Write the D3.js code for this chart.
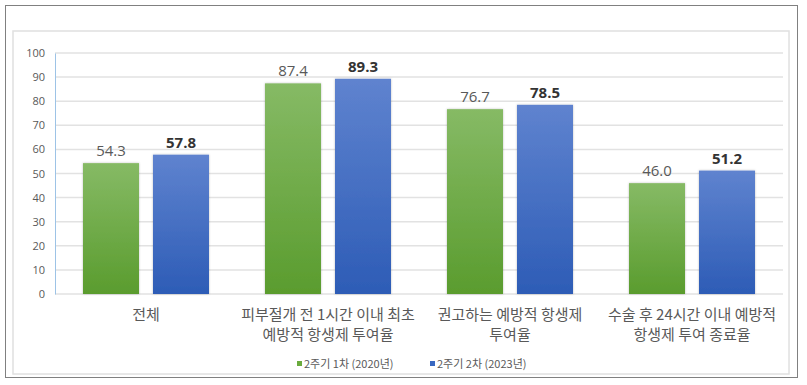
<!DOCTYPE html>
<html>
<head>
<meta charset="utf-8">
<script src="https://cdn.jsdelivr.net/npm/d3@7"></script>
<style>
  body { margin: 0; background: #fff; }
  svg { display: block; font-family: "Noto Sans CJK KR", "Noto Sans", sans-serif; }
</style>
</head>
<body>
<div id="chart"></div>
<script>
// data
var categories = [
  ["전체"],
  ["피부절개 전 1시간 이내 최초", "예방적 항생제 투여율"],
  ["권고하는 예방적 항생제", "투여율"],
  ["수술 후 24시간 이내 예방적", "항생제 투여 종료율"]
];
var seriesNames = ["2주기 1차 (2020년)", "2주기 2차 (2023년)"];
var round1 = [54.3, 87.4, 76.7, 46.0];
var round2 = [57.8, 89.3, 78.5, 51.2];
var yTicks = [0, 10, 20, 30, 40, 50, 60, 70, 80, 90, 100];

var svgWidth = 807, svgHeight = 385;
var plot = { left: 55, right: 783, top: 53, bottom: 294 };

var svg = d3.select("#chart").append("svg")
  .attr("width", svgWidth)
  .attr("height", svgHeight);

// gradients
var defs = svg.append("defs");
var grads = [["gGreen", "#86ba65", "#5a9c2e"], ["gBlue", "#5f83cf", "#2d5cb6"]];
grads.forEach(function(g) {
  var lg = defs.append("linearGradient").attr("id", g[0])
    .attr("x1", 0).attr("y1", 0).attr("x2", 0).attr("y2", 1);
  lg.append("stop").attr("offset", "0%").attr("stop-color", g[1]);
  lg.append("stop").attr("offset", "100%").attr("stop-color", g[2]);
});
var shadow = defs.append("filter").attr("id", "shadow")
  .attr("x", "-20%").attr("y", "-20%").attr("width", "140%").attr("height", "140%");
shadow.append("feDropShadow").attr("dx", 0).attr("dy", 0)
  .attr("stdDeviation", 1.2).attr("flood-color", "#000").attr("flood-opacity", 0.25);

// outer dotted frame + inner box
svg.append("rect").attr("x", 5.5).attr("y", 5.5).attr("width", 792).attr("height", 372)
  .attr("fill", "none").attr("stroke", "#000").attr("stroke-dasharray", "1,1");
svg.append("rect").attr("x", 13).attr("y", 31).attr("width", 776).attr("height", 343)
  .attr("fill", "#fff").attr("stroke", "#e0e0e0").attr("stroke-width", 1.5);

// scales
var y = d3.scaleLinear().domain([0, 100]).range([plot.bottom, plot.top]);
var x0 = d3.scaleBand().domain(d3.range(categories.length))
  .range([plot.left, plot.right]).paddingInner(0).paddingOuter(0);
var x1 = d3.scaleBand().domain([0, 1])
  .range([28, x0.bandwidth() - 28]).paddingInner(0.2);

// gridlines
svg.append("g").selectAll("line").data(yTicks.filter(function(t) { return t > 0; }))
  .enter().append("line")
  .attr("x1", plot.left).attr("x2", plot.right)
  .attr("y1", function(d) { return y(d); }).attr("y2", function(d) { return y(d); })
  .attr("stroke", "#e2e2e2").attr("stroke-width", 1.5);
svg.append("line")
  .attr("x1", plot.left).attr("x2", plot.right)
  .attr("y1", y(0)).attr("y2", y(0))
  .attr("stroke", "#e2e2e2").attr("stroke-width", 1.5);

// y axis
var leftAxis = d3.axisLeft(y).tickValues(yTicks).tickSize(0).tickPadding(10);
var yg = svg.append("g").attr("transform", "translate(" + plot.left + ",0)").call(leftAxis);
yg.select(".domain").attr("stroke", "#9dc3e6");
yg.selectAll("text").attr("fill", "#595959").style("font-size", "11px")
  .style("font-family", "'Open Sans', 'Noto Sans', sans-serif");

// bars
var series = [round1, round2];
var fills = ["url(#gGreen)", "url(#gBlue)"];
series.forEach(function(vals, si) {
  svg.append("g").selectAll("rect").data(vals).enter().append("rect")
    .attr("x", function(d, i) { return x0(i) + x1(si); })
    .attr("y", function(d) { return y(d); })
    .attr("width", x1.bandwidth())
    .attr("height", function(d) { return y(0) - y(d); })
    .attr("fill", fills[si])
    .attr("filter", "url(#shadow)");

  svg.append("g").selectAll("text").data(vals).enter().append("text")
    .attr("x", function(d, i) { return x0(i) + x1(si) + x1.bandwidth() / 2; })
    .attr("y", function(d) { return y(d) - 7; })
    .attr("text-anchor", "middle")
    .attr("fill", si === 0 ? "#595959" : "#333")
    .style("font-family", "'Open Sans', 'Noto Sans', sans-serif")
    .style("font-size", "15px")
    .style("font-weight", si === 0 ? "normal" : "bold")
    .text(function(d) { return d.toFixed(1); });
});

// category labels
var catG = svg.append("g").selectAll("text").data(categories).enter().append("text")
  .attr("x", function(d, i) { return x0(i) + x0.bandwidth() / 2; })
  .attr("y", 320)
  .attr("text-anchor", "middle")
  .attr("fill", "#595959")
  .style("font-size", "15px");
catG.selectAll("tspan").data(function(d) { return d; }).enter().append("tspan")
  .attr("x", function() { return d3.select(this.parentNode).attr("x"); })
  .attr("dy", function(d, i) { return i === 0 ? 0 : 20; })
  .text(function(d) { return d; });

// legend
var legendX = [297, 430];
var legendColors = ["#6aab3e", "#3a68c0"];
seriesNames.forEach(function(name, i) {
  svg.append("rect").attr("x", legendX[i]).attr("y", 361)
    .attr("width", 5).attr("height", 5).attr("fill", legendColors[i]);
  svg.append("text").attr("x", legendX[i] + 7).attr("y", 367.5)
    .attr("fill", "#595959").style("font-size", "11px")
    .text(name);
});
</script>
</body>
</html>
